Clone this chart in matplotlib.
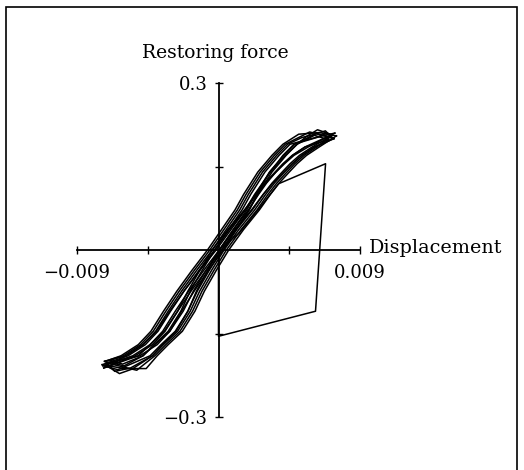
import matplotlib
matplotlib.use("Agg")
import matplotlib.pyplot as plt
from matplotlib.patches import Rectangle

# ---- data (displacement x in units of 1e-3) ----
x_ticks = [-0.009, -0.0045, 0.0045, 0.009]
x_tick_labels = ["\u22120.009", "", "", "0.009"]
y_ticks = [-0.3, -0.15, 0.15, 0.3]
y_tick_labels = ["\u22120.3", "", "", "0.3"]

# force levels at which branch displacements were read
rise_levels = [-0.19, -0.17, -0.146, -0.11, -0.074, -0.037, 0.0, 0.037, 0.072, 0.1, 0.12, 0.14, 0.155, 0.17, 0.185]
fall_levels = [0.19, 0.17, 0.155, 0.14, 0.12, 0.1, 0.072, 0.037, 0.0, -0.037, -0.074, -0.11, -0.146, -0.17, -0.19]

# loop tips
upper_tip_x = [7.5, 7.3, 7.2, 7.0, 7.4, 7.1, 7.35, 7.25]
upper_tip_y = [0.205, 0.200, 0.207, 0.198, 0.210, 0.203, 0.200, 0.206]
lower_tip_x = [-7.4, -7.2, -7.0, -6.9, -7.3, -7.1, -7.25, -7.35]
lower_tip_y = [-0.206, -0.200, -0.210, -0.198, -0.212, -0.203, -0.200, -0.208]

# rising branches (displacement at rise_levels)
rise1 = [-3.9, -3.2, -2.3, -1.5, -0.9, -0.15, 0.65, 1.6, 2.6, 3.3, 3.85, 4.5, 5.0, 5.6, 6.4]
rise2 = [-4.2, -3.5, -2.6, -1.8, -1.2, -0.45, 0.35, 1.3, 2.3, 3.0, 3.55, 4.2, 4.7, 5.3, 6.1]
rise3 = [-4.2, -3.55, -2.7, -1.95, -1.4, -0.7, 0.05, 0.95, 1.9, 2.55, 3.05, 3.65, 4.15, 4.7, 5.5]
rise4 = [-4.8, -4.1, -3.2, -2.4, -1.8, -1.05, -0.25, 0.7, 1.7, 2.4, 2.95, 3.6, 4.1, 4.7, 5.5]
rise5 = [-5.1, -4.35, -3.45, -2.6, -1.95, -1.2, -0.4, 0.6, 1.65, 2.4, 2.95, 3.65, 4.2, 4.8, 5.7]
rise6 = [-4.05, -3.35, -2.45, -1.65, -1.05, -0.3, 0.5, 1.45, 2.45, 3.15, 3.7, 4.35, 4.85, 5.45, 6.25]
rise7 = [-4.8, -4.05, -3.1, -2.25, -1.6, -0.8, 0.05, 1.05, 2.1, 2.85, 3.45, 4.15, 4.7, 5.3, 6.1]
rise8 = [-4.35, -3.65, -2.75, -1.95, -1.35, -0.6, 0.2, 1.15, 2.15, 2.85, 3.4, 4.05, 4.55, 5.15, 5.95]

# falling branches (displacement at fall_levels)
fall1 = [4.1, 3.4, 2.95, 2.5, 2.05, 1.6, 1.05, 0.2, -0.7, -1.7, -2.65, -3.5, -4.3, -5.1, -6.2]
fall2 = [4.4, 3.7, 3.25, 2.8, 2.35, 1.9, 1.35, 0.5, -0.4, -1.4, -2.35, -3.2, -4.0, -4.8, -5.9]
fall3 = [5.0, 4.25, 3.8, 3.3, 2.8, 2.3, 1.7, 0.8, -0.15, -1.2, -2.2, -3.1, -3.95, -4.8, -5.9]
fall4 = [5.0, 4.3, 3.85, 3.4, 2.95, 2.5, 1.95, 1.1, 0.2, -0.8, -1.75, -2.6, -3.4, -4.2, -5.3]
fall5 = [4.8, 4.1, 3.7, 3.25, 2.85, 2.45, 1.95, 1.15, 0.3, -0.65, -1.55, -2.35, -3.1, -3.9, -5.0]
fall6 = [4.25, 3.55, 3.1, 2.65, 2.2, 1.75, 1.2, 0.35, -0.55, -1.55, -2.5, -3.35, -4.15, -4.95, -6.05]
fall7 = [4.85, 4.15, 3.7, 3.25, 2.8, 2.35, 1.8, 0.95, 0.05, -0.95, -1.9, -2.75, -3.55, -4.35, -5.45]
fall8 = [4.55, 3.85, 3.4, 2.95, 2.5, 2.05, 1.5, 0.65, -0.25, -1.25, -2.2, -3.05, -3.85, -4.65, -5.75]

# jagged points near the tips (bottom roof after lower tip, top roof after upper tip)
rise_head_x = [[-6.0, -4.6], [-6.6, -5.6], [-6.3, -5.5], [-6.1], [-6.7], [-5.2], [-6.0], [-6.4]]
rise_head_y = [[-0.213, -0.213], [-0.218, -0.212], [-0.222, -0.214], [-0.205], [-0.206], [-0.216], [-0.208], [-0.215]]
fall_head_x = [[6.4, 5.1], [6.8, 6.0, 5.3], [6.3, 5.6], [6.1], [6.6], [5.8], [6.2], [6.9, 6.3]]
fall_head_y = [[0.211, 0.208], [0.214, 0.207, 0.202], [0.216, 0.204], [0.206], [0.205], [0.212], [0.209], [0.210, 0.203]]

# initial transient excursion
trans_x = [0.0, 1.3, 2.6, 3.82, 6.81, 6.17, 0.0, 0.0]
trans_y = [0.0, 0.03, 0.075, 0.119, 0.155, -0.110, -0.155, 0.0]

rises = [rise1, rise2, rise3, rise4, rise5, rise6, rise7, rise8]
falls = [fall1, fall2, fall3, fall4, fall5, fall6, fall7, fall8]

plt.rcParams['font.family'] = ['DejaVu Serif']
W, H = 524, 470
fig = plt.figure(figsize=(W / 100, H / 100), dpi=100)
ax = fig.add_axes([77 / W, 1 - 417 / H, (360 - 77) / W, (417 - 83) / H])
ax.set_xlim(-0.009, 0.009)
ax.set_ylim(-0.3, 0.3)

n = len(rises)
for k in range(n):
    # rising branch from lower tip k to upper tip k
    xs = [lower_tip_x[k]] + rise_head_x[k] + rises[k] + [upper_tip_x[k]]
    ys = [lower_tip_y[k]] + rise_head_y[k] + rise_levels + [upper_tip_y[k]]
    ax.plot([v * 1e-3 for v in xs], ys, color='black', lw=1.1, solid_joinstyle='round')
    # falling branch from upper tip k to next lower tip
    nk = (k + 1) % n
    xs = [upper_tip_x[k]] + fall_head_x[k] + falls[k] + [lower_tip_x[nk]]
    ys = [upper_tip_y[k]] + fall_head_y[k] + fall_levels + [lower_tip_y[nk]]
    ax.plot([v * 1e-3 for v in xs], ys, color='black', lw=1.1, solid_joinstyle='round')

ax.plot([v * 1e-3 for v in trans_x], trans_y, color='black', lw=1.1)

for s in ['top', 'right']:
    ax.spines[s].set_visible(False)
ax.spines['left'].set_position(('data', 0))
ax.spines['bottom'].set_position(('data', 0))
ax.spines['left'].set_linewidth(1.3)
ax.spines['bottom'].set_linewidth(1.3)
ax.set_xticks(x_ticks)
ax.set_xticklabels(x_tick_labels)
ax.set_yticks(y_ticks)
ax.set_yticklabels(y_tick_labels)
ax.tick_params(axis='both', direction='inout', length=6, width=1.0, labelsize=13)
ax.tick_params(axis='x', pad=7)
ax.tick_params(axis='y', pad=5)
ax.patch.set_visible(False)

fig.text(215 / W, 1 - 58 / H, "Restoring force", ha='center', va='baseline', fontsize=13.5)
fig.text(369 / W, 1 - 253 / H, "Displacement", ha='left', va='baseline', fontsize=13.8)

fig.patches.append(Rectangle((6 / W, -0.05), (517 - 6) / W, 1 - 7 / H + 0.05,
                             transform=fig.transFigure, fill=False, edgecolor='black', lw=1.2))

fig.savefig("out.png", dpi=100)
